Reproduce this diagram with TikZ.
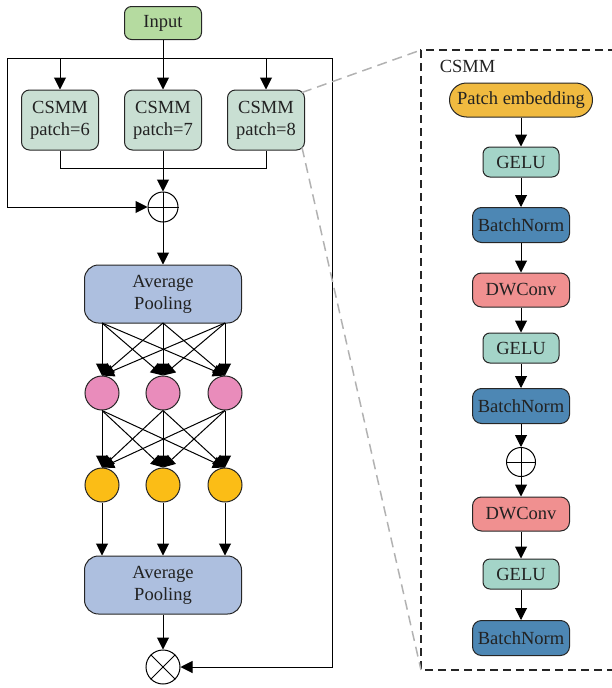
\documentclass[tikz,border=0pt]{standalone}
\usepackage{fontspec}
\setmainfont{Liberation Serif}
\usetikzlibrary{arrows.meta}

\definecolor{inputc}{HTML}{B5DBA0}
\definecolor{csmmc}{HTML}{C9DFD3}
\definecolor{poolc}{HTML}{ADBFDF}
\definecolor{pinkc}{HTML}{E98CBB}
\definecolor{yellc}{HTML}{FBBD16}
\definecolor{patchc}{HTML}{F0BA40}
\definecolor{geluc}{HTML}{A4D4C8}
\definecolor{bnc}{HTML}{4D87B4}
\definecolor{dwc}{HTML}{F09090}
\definecolor{txtc}{HTML}{222222}

\begin{document}
\begin{tikzpicture}[x=1pt,y=-1pt,
  font=\fontsize{18.5}{22}\selectfont, text=txtc,
  line width=1pt,
  arr/.style={-{Triangle[length=12pt,width=12pt]}},
  blk/.style={draw=black!85, rounded corners=#1, inner sep=0pt, align=center},
  blk/.default=8pt,
  neuron/.style={circle, draw=black!85, minimum size=34pt, inner sep=0pt},
  opnode/.style={circle, draw=black, fill=white, minimum size=#1, inner sep=0pt},
  zoomline/.style={draw=black!30, line width=1.5pt, dash pattern=on 10pt off 6pt},
  frame/.style={draw=black!85, line width=1.3pt, dash pattern=on 8pt off 5pt}]

\useasboundingbox (0,0) rectangle (612,688);

% ---------- left branch ----------
\node[blk=7pt, fill=inputc, minimum width=77pt, minimum height=33pt] (in) at (163,23) {Input};

\node[blk, fill=csmmc, minimum width=77pt, minimum height=60pt] (c1) at (60,120) {CSMM\\patch=6};
\node[blk, fill=csmmc, minimum width=77pt, minimum height=60pt] (c2) at (163,120) {CSMM\\patch=7};
\node[blk, fill=csmmc, minimum width=77pt, minimum height=60pt] (c3) at (266,120) {CSMM\\patch=8};

\node[opnode=30pt] (sum) at (163,207) {};
\draw (sum.north) -- (sum.south) (sum.west) -- (sum.east);

\node[blk=14pt, fill=poolc, minimum width=157pt, minimum height=58pt] (p1) at (163,294) {Average\\Pooling};

\foreach \i/\x in {1/102,2/163,3/225}{
  \node[neuron, fill=pinkc] (a\i) at (\x,393) {};
  \node[neuron, fill=yellc] (b\i) at (\x,485) {};
  \coordinate (s\i) at (\x,323);
}

\node[blk=14pt, fill=poolc, minimum width=157pt, minimum height=58pt] (p2) at (163,585) {Average\\Pooling};

\node[opnode=34pt] (prod) at (163,667) {};
\draw (prod.north west) -- (prod.south east) (prod.north east) -- (prod.south west);

% routing points of the skip paths
\coordinate (tl) at (7,58);
\coordinate (tr) at (332,58);
\coordinate (bl) at (7,207);
\coordinate (br) at (332,667);
\coordinate (mrg) at (163,168);

\draw[arr] (in.south) -- (c2.north);
\draw (tl) -- (tr);
\draw[arr] (c1.north |- tl) -- (c1.north);
\draw[arr] (c3.north |- tl) -- (c3.north);
\draw[arr] (tl) -- (bl) -- (sum.west);
\draw[arr] (tr) -- (br) -- (prod.east);

\draw (c1.south) -- (c1.south |- mrg) -- (c3.south |- mrg) -- (c3.south);
\draw[arr] (c2.south) -- (sum.north);
\draw[arr] (sum.south) -- (p1.north);

\foreach \i in {1,2,3}{
  \foreach \j in {1,2,3}{
    \draw[arr] (s\i) -- (a\j.north);
    \draw[arr] (a\i.south) -- (b\j.north);
  }
  \draw[arr] (b\i.south) -- (b\i.south |- p2.north);
}
\draw[arr] (p2.south) -- (prod.north);

% ---------- CSMM detail ----------
\coordinate (ftl) at (421,50);
\coordinate (fbl) at (421,670);
\draw[frame] (616,50) -- (ftl) -- (fbl) -- (616,670);
\node[anchor=west] (title) at (436,66) {CSMM};

\node[blk=17pt, fill=patchc, minimum width=143pt, minimum height=34pt] (pe) at (521,100) {Patch embedding};
\node[blk=7pt, fill=geluc, minimum width=76pt, minimum height=30pt] (g1) at (521,162) {GELU};
\node[blk=9pt, fill=bnc, minimum width=97pt, minimum height=35pt] (n1) at (521,225) {BatchNorm};
\node[blk=9pt, fill=dwc, minimum width=97pt, minimum height=34pt] (d1) at (521,290) {DWConv};
\node[blk=7pt, fill=geluc, minimum width=76pt, minimum height=30pt] (g2) at (521,348) {GELU};
\node[blk=9pt, fill=bnc, minimum width=97pt, minimum height=35pt] (n2) at (521,406) {BatchNorm};
\node[opnode=29pt] (sum2) at (521,462) {};
\draw (sum2.north) -- (sum2.south) (sum2.west) -- (sum2.east);
\node[blk=9pt, fill=dwc, minimum width=97pt, minimum height=34pt] (d2) at (521,514) {DWConv};
\node[blk=7pt, fill=geluc, minimum width=76pt, minimum height=30pt] (g3) at (521,574) {GELU};
\node[blk=9pt, fill=bnc, minimum width=97pt, minimum height=35pt] (n3) at (521,638) {BatchNorm};

\draw[arr] (pe) -- (g1);
\draw[arr] (g1) -- (n1);
\draw[arr] (n1) -- (d1);
\draw[arr] (d1) -- (g2);
\draw[arr] (g2) -- (n2);
\draw[arr] (n2) -- (sum2);
\draw[arr] (sum2) -- (d2);
\draw[arr] (d2) -- (g3);
\draw[arr] (g3) -- (n3);

% zoom guides
\draw[zoomline] ([shift={(-3pt,-3pt)}]c3.north east) -- (ftl);
\draw[zoomline] ([shift={(-3pt,3pt)}]c3.south east) -- (fbl);
\end{tikzpicture}
\end{document}
